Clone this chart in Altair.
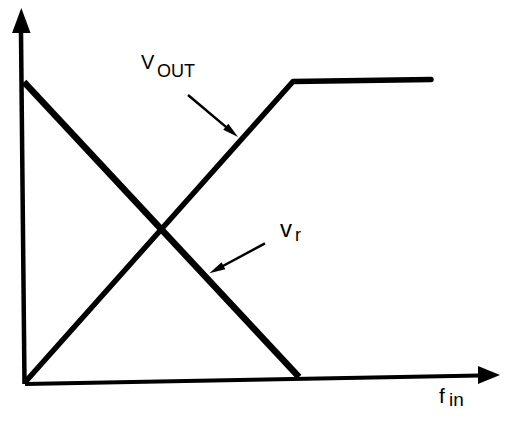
import altair as alt
import pandas as pd

# ---- values (f_in along x, voltage along y; origin at the axes' corner) ----
yaxis_f = [-0.5, -4.0]
yaxis_v = [0.0, 351.0]
xaxis_f = [0.0, 455.0]
xaxis_v = [0.0, 8.5]

vr_f = [-1.0, 274.0]
vr_v = [302.0, 7.0]

vout_f = [2.0, 268.0, 406.0]
vout_v = [4.0, 302.5, 304.5]

# label pointer lines
ptr_out_f = [163.0, 206.9]
ptr_out_v = [289.0, 252.1]
ptr_r_f = [240.0, 191.4]
ptr_r_v = [140.7, 114.5]

# arrow heads (axis ends and pointer ends)
yhead_f = [-3.7]
yhead_v = [363.5]
xhead_f = [464.0]
xhead_v = [9.0]
ptr_head_f = [206.9, 191.4]
ptr_head_v = [252.1, 114.5]
ptr_head_angle = [40, 152]

# labels
lab_main_text = ["V", "v", "f"]
lab_main_f = [116.0, 255.0, 414.0]
lab_main_v = [315.5, 147.0, -19.0]
lab_main_size = [20, 24, 21]
lab_sub_text = ["OUT", "r", "in"]
lab_sub_f = [132.0, 270.0, 424.0]
lab_sub_v = [307.0, 143.5, -22.0]
lab_sub_size = [18, 18, 19]

XS = alt.Scale(domain=[-17, 475], nice=False, zero=False)
YS = alt.Scale(domain=[-25, 376], nice=False, zero=False)


def path_df(fs, vs):
    return pd.DataFrame({"f": fs, "v": vs, "i": list(range(len(fs)))})


def line_layer(fs, vs, width, cap="butt"):
    return alt.Chart(path_df(fs, vs)).mark_line(
        color="black", strokeWidth=width, strokeCap=cap, strokeJoin="round"
    ).encode(
        x=alt.X("f:Q", scale=XS, axis=None),
        y=alt.Y("v:Q", scale=YS, axis=None),
        order="i:O",
    )


def head_layer(fs, vs, angles, shape, size):
    df = pd.DataFrame({"f": fs, "v": vs, "a": angles})
    return alt.Chart(df).mark_point(
        shape=shape, filled=True, color="black", opacity=1, size=size, strokeWidth=0
    ).encode(
        x=alt.X("f:Q", scale=XS, axis=None),
        y=alt.Y("v:Q", scale=YS, axis=None),
        angle=alt.Angle("a:Q", scale=None),
    )


def text_layer(texts, fs, vs, sizes):
    layers = []
    for t, f, v, s in zip(texts, fs, vs, sizes):
        df = pd.DataFrame({"f": [f], "v": [v], "t": [t]})
        layers.append(
            alt.Chart(df).mark_text(
                align="left", baseline="alphabetic", font="Liberation Sans",
                fontSize=s, color="black"
            ).encode(
                x=alt.X("f:Q", scale=XS, axis=None),
                y=alt.Y("v:Q", scale=YS, axis=None),
                text="t:N",
            )
        )
    return layers


layers = [
    line_layer(yaxis_f, yaxis_v, 4.5),
    line_layer(xaxis_f, xaxis_v, 4),
    line_layer(vr_f, vr_v, 6.5),
    line_layer(vout_f, vout_v, 5.5, cap="round"),
    line_layer(ptr_out_f, ptr_out_v, 2.5),
    line_layer(ptr_r_f, ptr_r_v, 2.5),
    head_layer(yhead_f, yhead_v, [270], "M1,0L-1,-0.74L-1,0.74Z", 625),
    head_layer(xhead_f, xhead_v, [0], "M1,0L-1,-0.82L-1,0.82Z", 484),
    head_layer(ptr_head_f, ptr_head_v, ptr_head_angle, "M1,0L-1,-0.5L-1,0.5Z", 256),
]
layers += text_layer(lab_main_text, lab_main_f, lab_main_v, lab_main_size)
layers += text_layer(lab_sub_text, lab_sub_f, lab_sub_v, lab_sub_size)

chart = alt.layer(*layers).properties(
    width=492, height=401,
    autosize=alt.AutoSizeParams(type="none"),
    padding=0,
    background="white",
).configure_view(stroke=None)

chart.save("out.html", embed_options={"renderer": "svg", "actions": False})
